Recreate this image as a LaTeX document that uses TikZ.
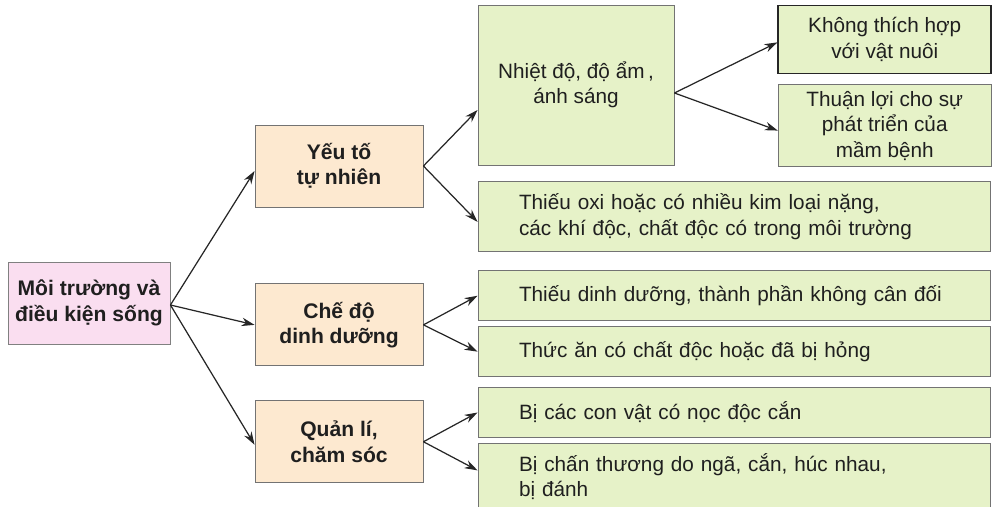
\documentclass[tikz,border=0pt]{standalone}
\usepackage{fontspec}
\setmainfont{Liberation Sans}
\usepackage{xcolor}
\usetikzlibrary{arrows.meta, positioning}

\definecolor{rootpink}{RGB}{250,222,240}
\definecolor{factorpeach}{RGB}{253,233,208}
\definecolor{leafgreen}{RGB}{230,242,200}

\begin{document}
\begin{tikzpicture}[
    >=Stealth,
    txt/.style={font=\fontsize{11.8}{14.5}\selectfont, text=black!88},
    rootbox/.style={txt, rectangle, draw=black!50, fill=rootpink, line width=0.5pt, font=\fontsize{12}{14.5}\selectfont\bfseries, minimum width=3.24cm, minimum height=1.64cm, align=center},
    factorbox/.style={txt, rectangle, draw=black!55, fill=factorpeach, line width=0.5pt, font=\fontsize{12}{14.5}\selectfont\bfseries, minimum width=3.36cm, minimum height=1.64cm, align=center},
    leafbox/.style={txt, rectangle, draw=black!55, fill=leafgreen, line width=0.5pt, align=center},
    widebox/.style={leafbox, text width=8.6cm, inner xsep=0.82cm, align=left},
    line/.style={draw=black!85, line width=0.7pt, -{Stealth[length=2.6mm, width=1.7mm]}}
]
    \useasboundingbox (0,0) rectangle (19.92,-10.14);

    % Goc
    \node [rootbox] (env) at (1.78,-6.06) {Môi trường và\\điều kiện sống};

    % Cot nhom yeu to
    \node [factorbox] (natural) at (6.78,-3.32) {Yếu tố\\tự nhiên};
    \node [factorbox, below=1.52cm of natural] (feeding) {Chế độ\\dinh dưỡng};
    \node [factorbox, below=0.68cm of feeding] (care) {Quản lí,\\chăm sóc};

    % Cot chi tiet
    \node [leafbox, minimum width=3.92cm, minimum height=3.2cm] (climate) at (11.52,-1.70) {Nhiệt độ, độ ẩm\,,\\ánh sáng};
    \node [widebox, minimum height=1.4cm, below=0.32cm of climate.south west, anchor=north west] (toxic) {Thiếu oxi hoặc có nhiều kim loại nặng,\\các khí độc, chất độc có trong môi trường};
    \node [widebox, minimum height=1.0cm, below=0.36cm of toxic] (lackfood) {Thiếu dinh dưỡng, thành phần không cân đối};
    \node [widebox, minimum height=1.0cm, below=0.1cm of lackfood] (badfood) {Thức ăn có chất độc hoặc đã bị hỏng};
    \node [widebox, minimum height=1.0cm, below=0.2cm of badfood] (bites) {Bị các con vật có nọc độc cắn};
    \node [widebox, minimum height=1.32cm, below=0.1cm of bites] (injury) {Bị chấn thương do ngã, cắn, húc nhau,\\bị đánh};

    % Cot ngoai cung
    \node [leafbox, draw=black!85, line width=0.9pt, minimum width=4.26cm, minimum height=1.36cm, right=2.06cm of climate.north east, anchor=north west] (unsuitable) {Không thích hợp\\với vật nuôi};
    \node [leafbox, minimum width=4.26cm, minimum height=1.64cm, below=0.2cm of unsuitable] (favorable) {Thuận lợi cho sự\\phát triển của\\mầm bệnh};

    % Mui ten
    \draw [line] ([yshift=-0.04cm]env.east) -- ([yshift=-0.1cm]natural.west);
    \draw [line] ([yshift=-0.04cm]env.east) -- (feeding.west);
    \draw [line] ([yshift=-0.04cm]env.east) -- ([yshift=-0.06cm]care.west);

    \draw [line] (natural.east) -- ([yshift=-0.5cm]climate.west);
    \draw [line] (natural.east) -- ([yshift=-0.1cm]toxic.west);
    \draw [line] ([yshift=-0.16cm]climate.east) -- ([yshift=-0.06cm]unsuitable.west);
    \draw [line] ([yshift=-0.16cm]climate.east) -- ([yshift=-0.1cm]favorable.west);

    \draw [line] (feeding.east) -- (lackfood.west);
    \draw [line] (feeding.east) -- (badfood.west);
    \draw [line] (care.east) -- (bites.west);
    \draw [line] (care.east) -- ([yshift=0.12cm]injury.west);

\end{tikzpicture}
\end{document}
